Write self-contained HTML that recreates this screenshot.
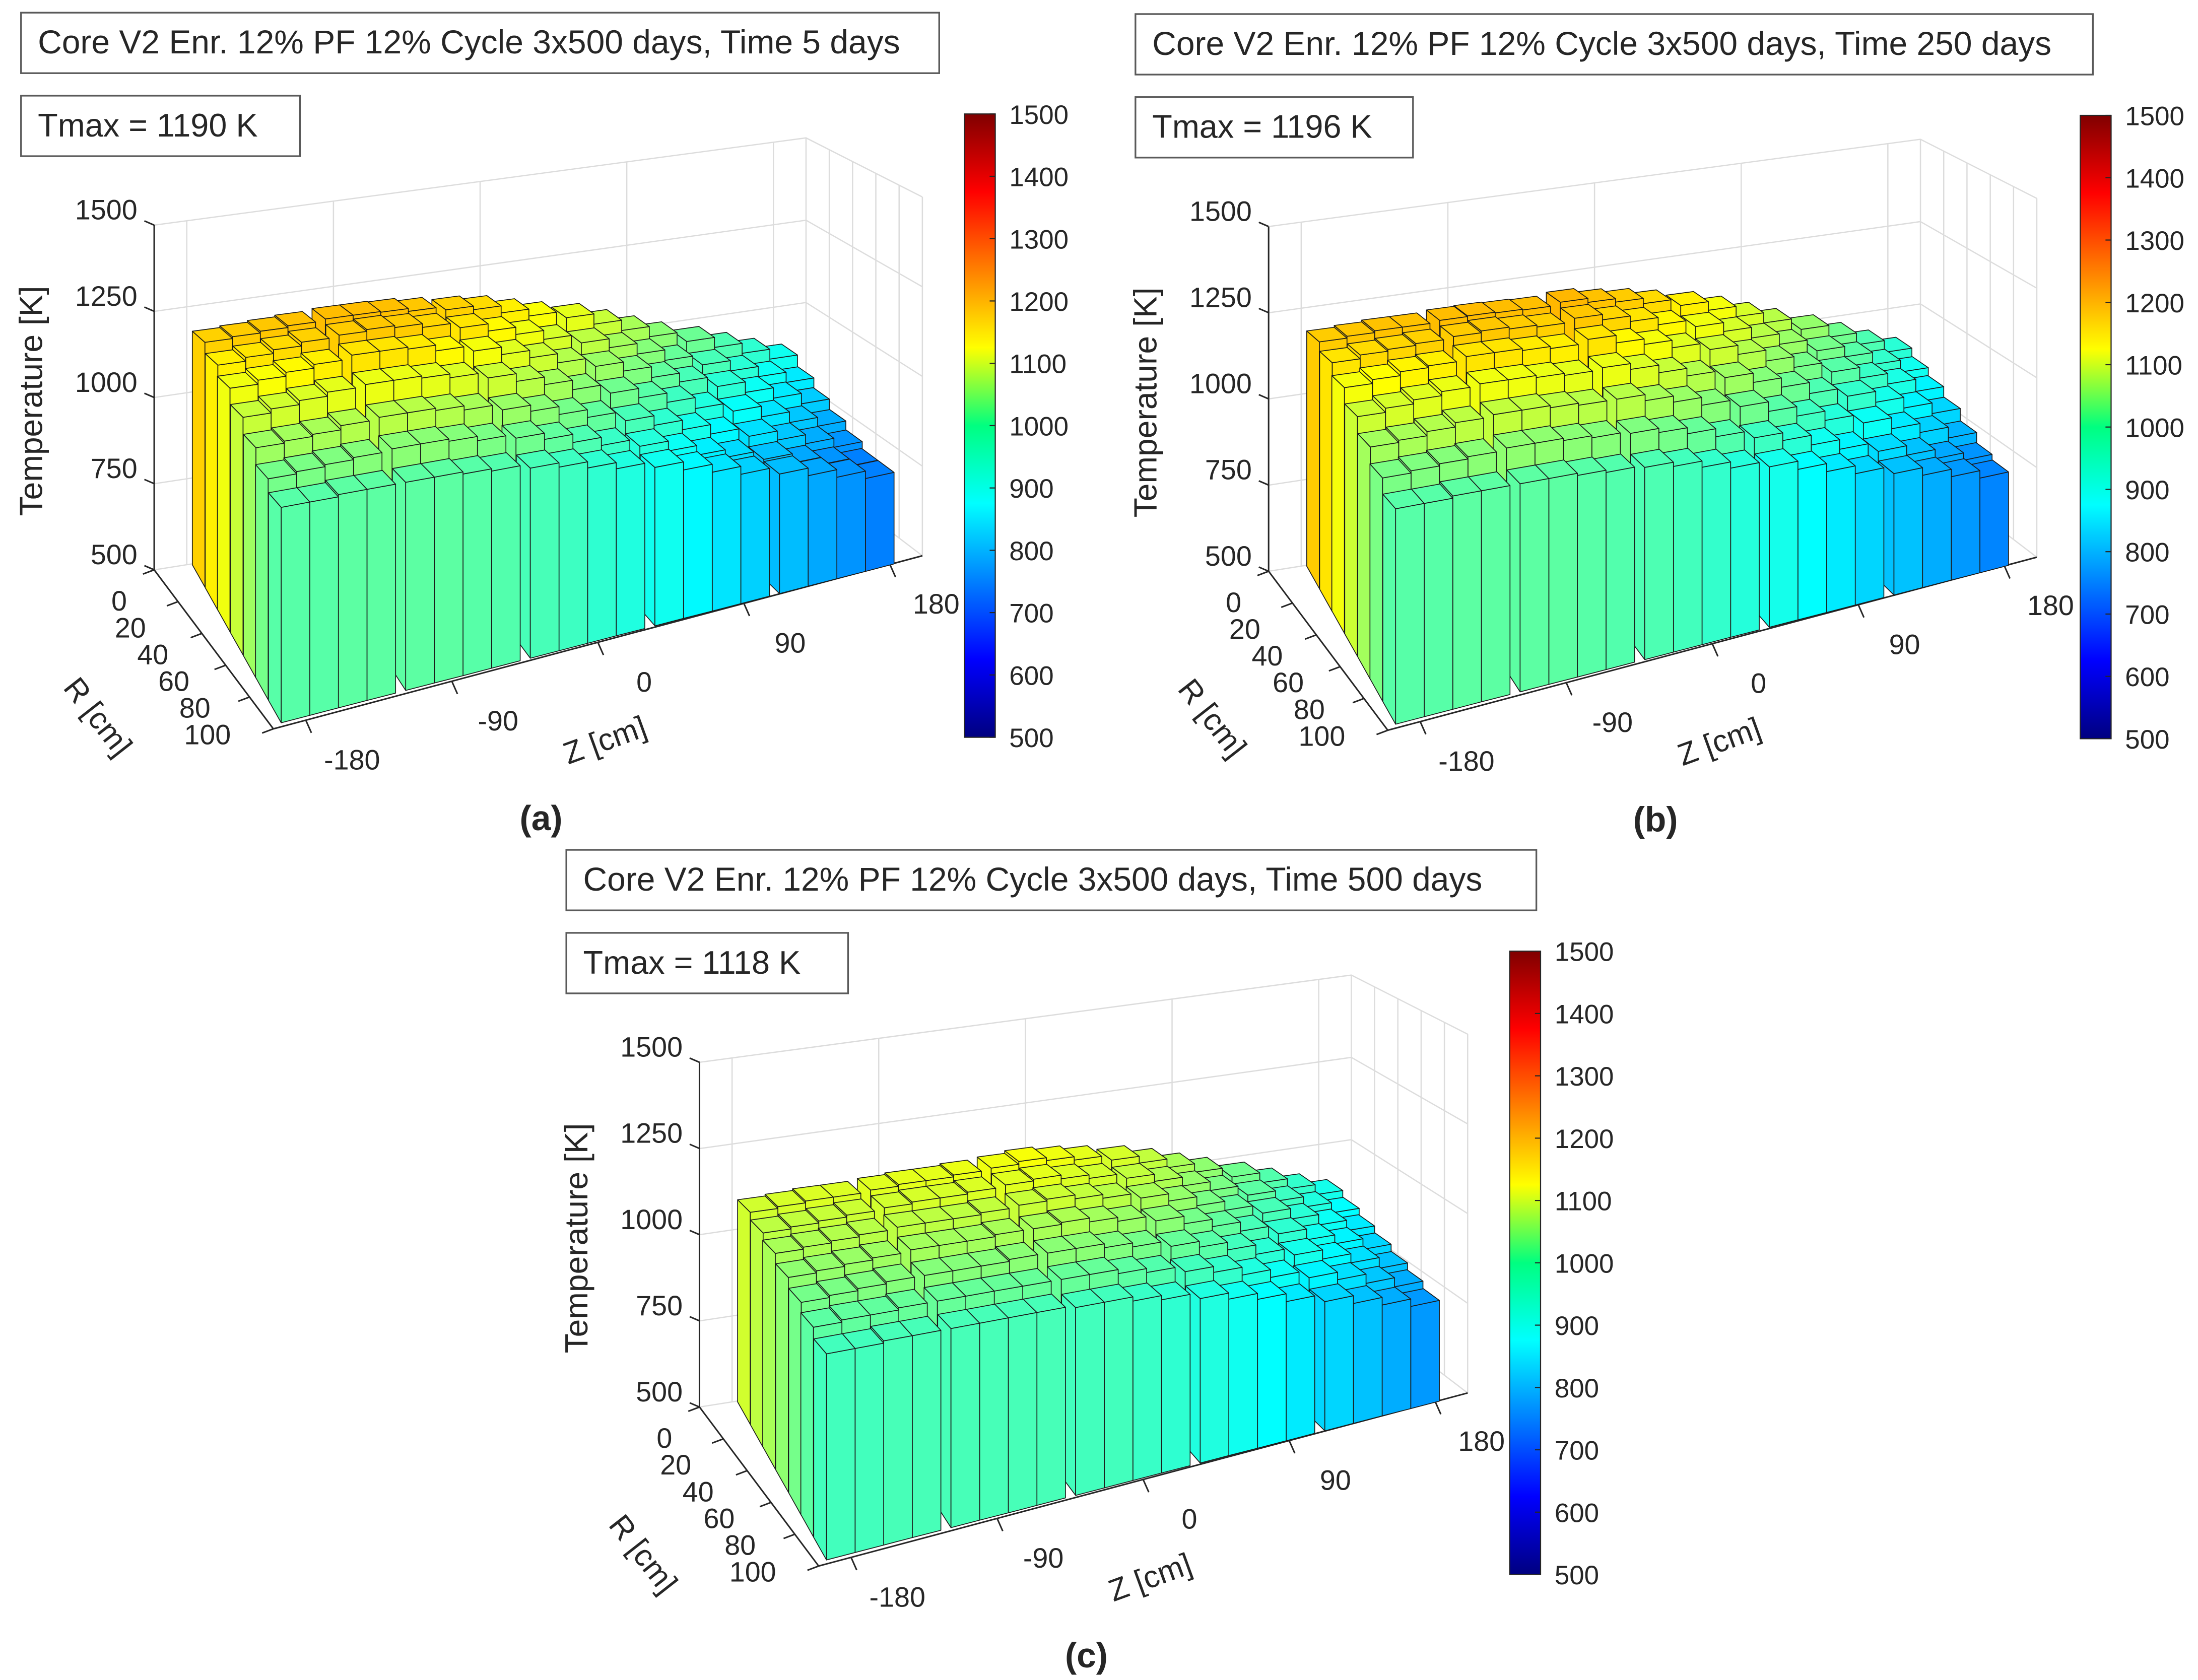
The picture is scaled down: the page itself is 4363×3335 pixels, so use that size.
<!DOCTYPE html>
<html><head><meta charset="utf-8"><style>
html,body{margin:0;padding:0;background:#fff;}
svg{display:block;}
text{font-family:"Liberation Sans",Arial,sans-serif;fill:#262626;}
</style></head><body>
<svg id="fig" xmlns="http://www.w3.org/2000/svg" width="4363" height="3335" viewBox="0 0 1568 1194" preserveAspectRatio="none">
<defs>
<linearGradient id="jetgrad" x1="0" y1="1" x2="0" y2="0">
<stop offset="0" stop-color="#000080"/><stop offset="0.125" stop-color="#0000ff"/><stop offset="0.375" stop-color="#00ffff"/><stop offset="0.5" stop-color="#00ff80"/><stop offset="0.625" stop-color="#ffff00"/><stop offset="0.875" stop-color="#ff0000"/><stop offset="1" stop-color="#800000"/>
</linearGradient>
</defs>
<rect x="0" y="0" width="1568" height="1194" fill="#fff"/>
</svg>
<script>
// Z bin centres (cm), 5 blocks of 4, and R rows (cm), back (R=0) to front (R=100)
const zCenters = [-173.5,-156.5,-139.5,-122.5,-99.5,-82.5,-65.5,-48.5,-25.5,-8.5,8.5,25.5,48.5,65.5,82.5,99.5,122.5,139.5,156.5,173.5];
const rRows = [0,17,33,50,67,83,100];
const tTicks = [500,750,1000,1250,1500];
const rTicks = [0,20,40,60,80,100];
const zTicks = [-180,-90,0,90,180];
const cbTicks = [500,600,700,800,900,1000,1100,1200,1300,1400,1500];
const titles = ["Core V2 Enr. 12% PF 12% Cycle 3x500 days, Time 5 days","Core V2 Enr. 12% PF 12% Cycle 3x500 days, Time 250 days","Core V2 Enr. 12% PF 12% Cycle 3x500 days, Time 500 days"];
const tmaxValues = [1190,1196,1118];
const panelLetters = ["(a)","(b)","(c)"];
// temperatures [K], rows back->front, columns Z -180 -> 180
const tempA = [
[1170,1175,1180,1185,1190,1190,1188,1180,1170,1160,1140,1120,1100,1070,1040,1010,980,950,920,890],
[1140,1150,1160,1170,1175,1180,1175,1165,1150,1130,1110,1085,1060,1035,1005,975,945,915,885,855],
[1110,1120,1130,1140,1150,1150,1145,1130,1115,1095,1075,1050,1025,1000,970,945,915,885,855,825],
[1070,1080,1090,1100,1105,1105,1100,1090,1075,1055,1035,1010,985,960,935,905,880,850,820,795],
[1030,1035,1040,1050,1055,1055,1050,1040,1025,1010,990,970,945,920,895,870,845,820,795,770],
[990,995,1000,1005,1010,1010,1005,995,985,970,950,930,910,885,860,840,815,790,770,750],
[960,960,965,965,965,965,960,955,945,935,920,905,890,870,850,830,810,790,770,750]];
const tempB = [
[1175,1180,1185,1185,1190,1192,1190,1188,1196,1185,1175,1160,1140,1115,1085,1055,1020,985,950,915],
[1150,1160,1165,1170,1175,1180,1175,1170,1180,1165,1150,1130,1110,1085,1055,1025,990,960,925,890],
[1115,1125,1135,1140,1150,1150,1145,1140,1150,1130,1115,1095,1075,1050,1020,990,960,930,900,865],
[1075,1085,1095,1105,1110,1110,1105,1100,1105,1090,1070,1050,1030,1005,980,950,925,895,865,835],
[1035,1040,1050,1060,1065,1065,1060,1055,1055,1040,1025,1005,985,960,935,910,885,855,830,800],
[995,1000,1005,1010,1015,1015,1010,1005,1000,990,975,955,935,915,890,865,840,815,790,770],
[960,960,965,965,965,965,960,955,950,940,925,910,895,875,855,835,815,795,775,755]];
const tempC = [
[1080,1085,1090,1090,1095,1100,1100,1105,1110,1118,1110,1100,1085,1065,1040,1015,985,955,925,895],
[1060,1065,1070,1075,1080,1085,1085,1090,1095,1100,1090,1080,1065,1045,1020,995,965,935,905,875],
[1040,1045,1050,1055,1060,1060,1060,1065,1070,1075,1065,1055,1040,1020,995,970,945,915,885,855],
[1015,1020,1025,1030,1035,1035,1035,1040,1040,1045,1035,1025,1010,990,970,945,920,890,865,835],
[990,995,1000,1005,1005,1005,1005,1010,1010,1010,1000,990,975,960,940,915,895,870,845,815],
[965,970,970,975,975,975,975,975,975,975,965,955,940,925,905,885,865,845,820,795],
[940,940,945,945,945,945,945,945,940,940,930,920,905,890,875,855,835,815,795,775]];
const panelData = [tempA,tempB,tempC];

const NS="http://www.w3.org/2000/svg";
const svg=document.getElementById('fig');
function mk(tag,attrs,parent){const e=document.createElementNS(NS,tag);for(const k in attrs)e.setAttribute(k,attrs[k]);(parent||svg).appendChild(e);return e;}
function jet(v){let t=(v-500)/1000;t=Math.max(0,Math.min(1,t));
 const c=x=>Math.round(255*Math.max(0,Math.min(1,x)));
 return `rgb(${c(1.5-Math.abs(4*t-3))},${c(1.5-Math.abs(4*t-2))},${c(1.5-Math.abs(4*t-1))})`;}
const boxC={p000:[110,405],p001:[110,160],p100:[575,332],p101:[575,98],p010:[195,518],p011:[195,183],p110:[658,395],p111:[658,140]};
const dataC={p000:[135,402],p001:[135,154],p100:[560,334],p101:[560,104],p010:[198,514],p011:[198,181],p110:[640,400],p111:[640,140]};
function tri(C,u,v,w){const L=(a,b,t)=>[a[0]+(b[0]-a[0])*t,a[1]+(b[1]-a[1])*t];
 const a=L(L(C.p000,C.p100,u),L(C.p010,C.p110,u),v);const b=L(L(C.p001,C.p101,u),L(C.p011,C.p111,u),v);return L(a,b,w);}
function pts(arr){return arr.map(p=>p[0].toFixed(1)+','+p[1].toFixed(1)).join(' ');}
const zMin=-184,zMax=184,rMin=-8,rMax=108;
const zScale=z=>(z-zMin)/(zMax-zMin);
const rScale=r=>(r-rMin)/(rMax-rMin);
const tScale=t=>(t-500)/1000;
const offsets=[[0,0],[795,1],[389,595]];
const titleW=[655,683,692], tmaxW=[199,198,201];
const rLab=[[85,434],[93,453],[109,472],[124,491],[139,510],[148,529]];

for(let p=0;p<3;p++){
 const g=mk('g',{transform:`translate(${offsets[p][0]},${offsets[p][1]})`});
 
 
 const grid=mk('g',{stroke:'#dcdcdc','stroke-width':0.9,fill:'none'},g);
 
 
 for(const t of tTicks){const w=tScale(t);mk('polyline',{points:pts([tri(boxC,0,0,w),tri(boxC,1,0,w),tri(boxC,1,1,w)])},grid);}
 for(const z of zTicks){const u=(z+200)/400;mk('line',{x1:tri(boxC,u,0,0)[0],y1:tri(boxC,u,0,0)[1],x2:tri(boxC,u,0,1)[0],y2:tri(boxC,u,0,1)[1]},grid);}
 for(const r of rTicks){const v=r/100;const a=tri(boxC,1,v,0),b=tri(boxC,1,v,1);mk('line',{x1:a[0],y1:a[1],x2:b[0],y2:b[1]},grid);}
 const ax=mk('g',{stroke:'#262626','stroke-width':1.1,fill:'none'},g);
 
 
 mk('line',{x1:110,y1:160,x2:110,y2:405},ax);
 mk('line',{x1:110,y1:405,x2:195,y2:518},ax);
 mk('line',{x1:195,y1:518,x2:658,y2:395},ax);
 tTicks.forEach((t,i)=>{const y=405-245*tScale(t);mk('line',{x1:103,y1:y-3,x2:110,y2:y},ax);
  const tx=mk('text',{x:98,y:y-4,'font-size':20,'text-anchor':'end'},g);tx.textContent=t;
  
  });
 rTicks.forEach((r,i)=>{const f=r/100;const x=110+85*f,y=405+113*f;mk('line',{x1:x,y1:y,x2:x-8,y2:y+3},ax);
  const tx=mk('text',{x:rLab[i][0],y:rLab[i][1],'font-size':20,'text-anchor':'middle'},g);tx.textContent=r;
  
  });
 zTicks.forEach((z,i)=>{const f=(z+200)/400;const x=195+463*f,y=518-123*f;mk('line',{x1:x,y1:y,x2:x+4,y2:y+9},ax);
  const tx=mk('text',{x:x+33,y:y+35,'font-size':20,'text-anchor':'middle'},g);tx.textContent=z;
  
  });
 const data=panelData[p];
 const bars=mk('g',{stroke:'#1a1a1a','stroke-width':0.6,'stroke-linejoin':'round'},g);
 
 
 const dz=8.5, dr=(rMax-rMin)/rRows.length*0.5;
 for(let i=0;i<rRows.length;i++){
  for(let j=zCenters.length-1;j>=0;j--){
   const val=data[i][j];
   const u0=zScale(zCenters[j]-dz),u1=zScale(zCenters[j]+dz);
   const v0=rScale(rRows[i]-dr),v1=rScale(rRows[i]+dr);
   const w=tScale(val);const col=jet(val);
   const bg=mk('g',{fill:col},bars);
   
   
   mk('polygon',{points:pts([tri(dataC,u0,v0,0),tri(dataC,u0,v1,0),tri(dataC,u0,v1,w),tri(dataC,u0,v0,w)])},bg);
   mk('polygon',{points:pts([tri(dataC,u0,v1,0),tri(dataC,u1,v1,0),tri(dataC,u1,v1,w),tri(dataC,u0,v1,w)])},bg);
   mk('polygon',{points:pts([tri(dataC,u0,v0,w),tri(dataC,u1,v0,w),tri(dataC,u1,v1,w),tri(dataC,u0,v1,w)])},bg);
  }
 }
 let t=mk('text',{x:0,y:0,'font-size':23,'text-anchor':'middle',transform:'translate(30,285) rotate(-90)'},g);t.textContent='Temperature [K]';
 
 t=mk('text',{x:0,y:0,'font-size':22,'text-anchor':'middle',transform:'translate(64,514) rotate(52)'},g);t.textContent='R [cm]';
 
 t=mk('text',{x:0,y:0,'font-size':22,'text-anchor':'middle',transform:'translate(434,533) rotate(-20)'},g);t.textContent='Z [cm]';
 
 mk('rect',{x:15,y:9,width:titleW[p],height:43,fill:'#fff',stroke:'#5a5a5a','stroke-width':1.2},g);
 t=mk('text',{x:27,y:38,'font-size':23.7},g);t.textContent=titles[p];
 
 mk('rect',{x:15,y:68,width:tmaxW[p],height:43,fill:'#fff',stroke:'#5a5a5a','stroke-width':1.2},g);
 t=mk('text',{x:27,y:97,'font-size':23.3},g);t.textContent='Tmax = '+tmaxValues[p]+' K';
 
 const cbx=p===1?689:688;
 const cb=mk('rect',{x:cbx,y:81,width:22,height:443,fill:'url(#jetgrad)',stroke:'#262626','stroke-width':0.8},g);
 
 cbTicks.forEach(v=>{const y=524-443*(v-500)/1000;mk('line',{x1:cbx+18,y1:y,x2:cbx+22,y2:y,stroke:'#262626','stroke-width':0.8},g);
  const tx=mk('text',{x:cbx+32,y:y+7,'font-size':19},g);tx.textContent=v;
  });
 t=mk('text',{x:386,y:590,'font-size':25,'text-anchor':'middle','font-weight':'bold','font-family':'Liberation Serif, serif'},g);t.textContent=panelLetters[p];
 
}
</script>
</body></html>
